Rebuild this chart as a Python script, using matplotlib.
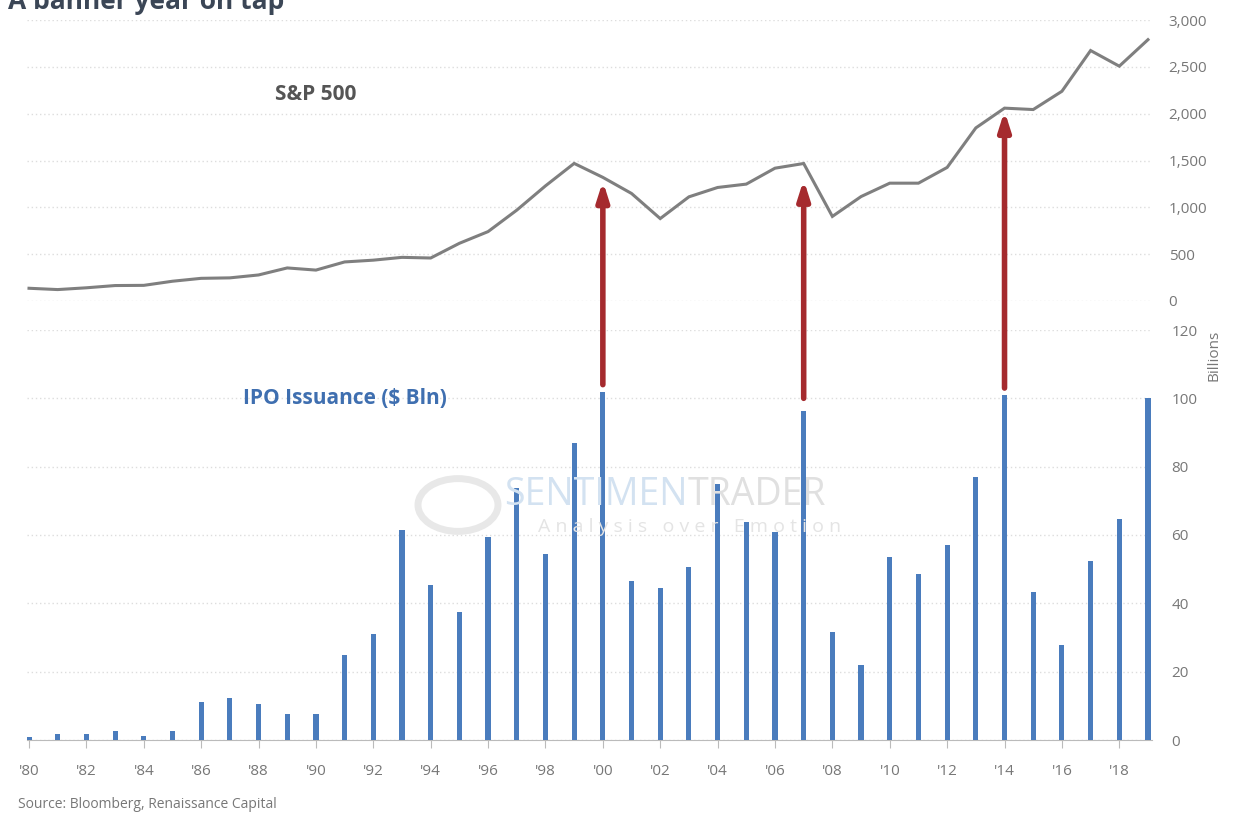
import numpy as np
import matplotlib.pyplot as plt

plt.rcParams['font.family'] = ['Open Sans', 'DejaVu Sans']

# Data
years = list(range(1980, 2020))
sp500 = [136, 122, 141, 165, 167, 211, 242, 247, 278, 353,
         330, 417, 436, 466, 459, 616, 741, 970, 1229, 1469,
         1320, 1148, 880, 1112, 1212, 1248, 1418, 1468, 903, 1115,
         1258, 1258, 1426, 1848, 2059, 2044, 2239, 2674, 2507, 2790]
ipo = [1.0, 1.7, 1.7, 2.6, 1.2, 2.6, 11.0, 12.3, 10.5, 7.6,
       7.6, 25.0, 31.0, 61.5, 45.3, 37.4, 59.4, 73.7, 54.4, 86.8,
       102.0, 46.5, 44.4, 50.6, 75.0, 63.7, 60.8, 96.2, 31.6, 22.0,
       53.5, 48.5, 57.0, 77.0, 101.0, 43.3, 27.8, 52.3, 64.6, 100.0]
tick_years = list(range(1980, 2019, 2))
tick_labels = ["'%02d" % (y % 100) for y in tick_years]
arrow_years = [2000, 2007, 2014]
arrow_from = [104, 100, 103]      # IPO axis
arrow_to = [1280, 1295, 2030]     # S&P axis

grey_txt = '#777777'
bar_col = '#4a7cbd'
line_col = '#7f7f7f'
arrow_col = '#a52a2e'

W, H = 1237, 816
fig = plt.figure(figsize=(W / 100, H / 100), dpi=100)

def px_axes(l, t, r, b):
    return fig.add_axes([l / W, 1 - b / H, (r - l) / W, (b - t) / H])

ax_bot = px_axes(27, 330, 1152, 740)
ax_top = px_axes(27, 20, 1152, 301)
for a in (ax_top, ax_bot):
    a.patch.set_visible(False)
ax_top.set_zorder(3)

xlim = (1979.93, 2019.14)

# watermark
fig.text(688 / W, 1 - 495 / H, 'SENTIMEN', fontsize=27, color='#d3e2f1',
         ha='right', va='center', zorder=0)
fig.text(688 / W, 1 - 495 / H, 'TRADER', fontsize=27, color='#e0e0e0',
         ha='left', va='center', zorder=0)
fig.text(690 / W, 1 - 527 / H, 'A n a l y s i s   o v e r   E m o t i o n', fontsize=14,
         color='#e4e4e4', ha='center', va='center', zorder=0)
logo = plt.Circle((458 / W, 1 - 505 / H), 40 / W, transform=fig.transFigure,
                  fill=False, ec='#e8e8e8', lw=5, zorder=0)
fig.patches.append(logo)

# S&P 500 line
ax_top.plot(years, sp500, color=line_col, lw=2.2, solid_joinstyle='miter')
ax_top.set_xlim(*xlim)
ax_top.set_ylim(0, 3000)
ax_top.set_yticks(range(0, 3001, 500))
ax_top.set_yticklabels(['{:,}'.format(v) for v in range(0, 3001, 500)])
ax_top.set_xticks([])
ax_top.grid(axis='y', color='#dddddd', ls=(0, (1, 2)), lw=1)
for s in ax_top.spines.values():
    s.set_visible(False)
ax_top.yaxis.tick_right()
ax_top.tick_params(axis='y', length=0, pad=12, labelsize=11, labelcolor=grey_txt)
ax_top.text(1990.0, 2200, 'S&P 500', fontsize=15, fontweight='bold', color='#555555',
            ha='center', va='center')

# IPO bars
ax_bot.bar(years, ipo, width=0.18, color=bar_col, zorder=3)
ax_bot.set_xlim(*xlim)
ax_bot.set_ylim(0, 120)
ax_bot.set_yticks(range(0, 121, 20))
ax_bot.set_xticks(tick_years)
ax_bot.set_xticklabels(tick_labels)
ax_bot.grid(axis='y', color='#dddddd', ls=(0, (1, 2)), lw=1)
for k in ['top', 'left', 'right']:
    ax_bot.spines[k].set_visible(False)
ax_bot.spines['bottom'].set_color('#bbbbbb')
ax_bot.yaxis.tick_right()
ax_bot.tick_params(axis='y', length=0, pad=14, labelsize=11, labelcolor=grey_txt)
ax_bot.tick_params(axis='x', length=6, color='#bbbbbb', pad=11, labelsize=11,
                   labelcolor=grey_txt)
ax_bot.text(1991.0, 100, 'IPO Issuance ($ Bln)', fontsize=15, fontweight='bold',
            color='#3f6fb0', ha='center', va='center')
ax_bot.text(1.055, 1.0, 'Billions', transform=ax_bot.transAxes, rotation=90,
            fontsize=11, color=grey_txt, ha='center', va='top')

# arrows across the two panels
for yr, y0, y1 in zip(arrow_years, arrow_from, arrow_to):
    ax_top.annotate('', xy=(yr, y1), xycoords=ax_top.transData,
                    xytext=(yr, y0), textcoords=ax_bot.transData,
                    arrowprops=dict(arrowstyle='-|>,head_length=1.1,head_width=0.35',
                                    color=arrow_col, lw=4, shrinkA=0, shrinkB=0),
                    annotation_clip=False, zorder=5)

fig.text(8 / W, 1 - 9 / H, 'A banner year on tap', fontsize=19, fontweight='bold',
         color='#3b4656', ha='left', va='baseline')
fig.text(18 / W, 1 - 805 / H, 'Source: Bloomberg, Renaissance Capital', fontsize=10,
         color=grey_txt, ha='left', va='center')

fig.savefig('out.png', dpi=100)
